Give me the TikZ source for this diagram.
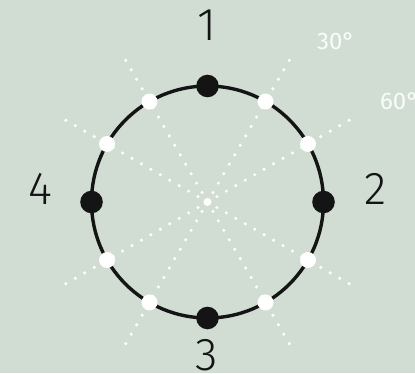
\documentclass[tikz,border=0pt]{standalone}
\usepackage{fontspec}
\setmainfont{Fira Sans Light}
\newfontfamily\degfont{Fira Sans}
\usetikzlibrary{positioning,calc}

\begin{document}
\begin{tikzpicture}[x=1pt, y=1pt,
  % ---- colours -------------------------------------------------------
  /utils/exec={%
    \definecolor{dialbg}  {RGB}{209,221,211}%
    \definecolor{dialink} {RGB}{ 20, 20, 20}%
  },
  % ---- styles --------------------------------------------------------
  ring/.style={draw=dialink, line width=3.4pt},
  bigdot/.style={circle, fill=dialink, minimum size=22.6pt, inner sep=0pt},
  smalldot/.style={circle, fill=white, minimum size=16pt, inner sep=0pt},
  ray/.style={draw=white, line width=3.4pt, line cap=round,
              dash pattern=on 0pt off 10.9pt},
  num/.style={font=\fontsize{46}{46}\selectfont, text=dialink, inner sep=0pt},
  deg/.style={font=\degfont\fontsize{24}{24}\selectfont, text=white!90!dialbg, inner sep=0pt},
]
\fill[dialbg] (0,0) rectangle (415,373);
\useasboundingbox (0,0) rectangle (415,373);
\clip (0,0) rectangle (415,373);

% =====================================================================
%  DOTTED RAYS through the centre
% =====================================================================
\coordinate (c) at (207.5,171);
\foreach \a in {30,60,120,150,210,240,300,330}
  \draw[ray] (c) -- ++(\a:174) coordinate (r\a);
\fill[white] (c) circle (4);

% =====================================================================
%  THE RING and its marks
% =====================================================================
\draw[ring] (c) circle (116);

\foreach \a in {30,60,120,150,210,240,300,330}
  \node[smalldot] (w\a) at ($(c)+(\a:116)$) {};

\node[bigdot] (p1) at ($(c)+(90:116)$)  {};
\node[bigdot] (p2) at ($(c)+(0:116)$)   {};
\node[bigdot] (p3) at ($(c)+(270:116)$) {};
\node[bigdot] (p4) at ($(c)+(180:116)$) {};

% =====================================================================
%  LABELS
% =====================================================================
\node[num] (l1) at (207,348) {1};
\node[num] (l2) at (376,184) {2};
\node[num] (l3) at (207,18)  {3};
\node[num] (l4) at (40,184)  {4};

\node[deg]              (d30) at (336,331.5) {30°};
\node[deg, anchor=west] (d60) at (380,272)   {60°};

\end{tikzpicture}
\end{document}
